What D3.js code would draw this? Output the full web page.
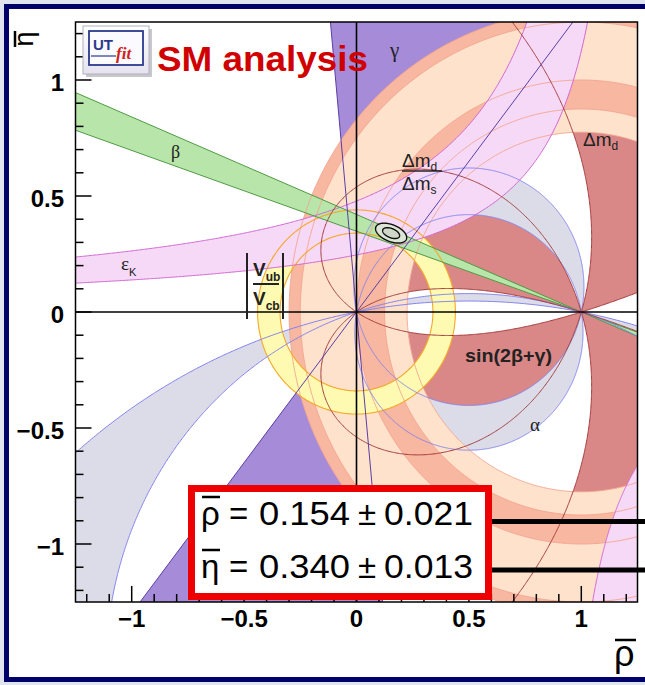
<!DOCTYPE html>
<html>
<head>
<meta charset="utf-8">
<script src="https://cdn.jsdelivr.net/npm/d3@7"></script>
<style>
  html, body { margin: 0; padding: 0; background: #dfe4ee; }
  svg { display: block; }
</style>
</head>
<body>
<svg id="chart" width="645" height="685"></svg>
<script>
// ---------- axis ticks ----------
const xTicks = [-1, -0.5, 0, 0.5, 1];
const yTicks = [-1, -0.5, 0, 0.5, 1];
const tickLabels = ["\u22121", "\u22120.5", "0", "0.5", "1"];

// ---------- fit result (rho-bar, eta-bar) ----------
const fitMean = [0.154, 0.340];
const fitError = [0.021, 0.013];
const fitLevels = [1.8, 3.3];          // contour sizes in units of sigma
const fitCorrelation = -0.45;

// ---------- constraints ----------
const vubVcbRadii = [0.34, 0.44];      // ring around (0,0)
const dmdOuterRadii = [1.2, 1.30];     // ring around (1,0)
const dmdRadii = [0.775, 1.25];        // ring around (1,0)
const dmsRadii = [0.875, 1.0];         // ring around (1,0)
const gammaDeg = [52.4, 95.3];         // wedge from (0,0)
const betaDeg = [19.2, 22.8];          // wedge from (1,0)
const alphaCentres = [[-0.088, 0.109], [-2.62, -1.535]]; // circle centres (0.5, c)
const epsKBand = [[0.587, 1.2275], [0.315, 1.28]];       // eta = k / (rho0 - rho)
const epsKBranch = [[0.281, 0.825], [0.9, 0.825]];
const sin2bgCut = [0.55];              // |sin(2beta+gamma)| lower bound

// ---------- layout ----------
const W = 645, H = 685;
const svg = d3.select("#chart");
const x = d3.scaleLinear().domain([-1.25, 1.25]).range([75.5, 637.5]);
const y = d3.scaleLinear().domain([-1.25, 1.25]).range([602, 22]);
const sans = "'Liberation Sans', Arial, Helvetica, sans-serif";
const serif = "'Liberation Serif', 'Times New Roman', serif";

const col = {
  gamma: "#a58bd8", gammaLine: "#5a3fa6",
  sinFill: "#da8787", sinLine: "#a33b3b",
  alpha: "#dcdce8", alphaLine: "#8383f0",
  dmd: "#fee2cc", dms: "#f8b7a0", ringLine: "#f3a58f",
  vub: "#fffab2", vubLine: "#f4a82a",
  eps: "#f6d9f6", epsLine: "#d168d1",
  beta: "#b8e5a9", betaLine: "#4f9a43"
};

// page background and navy frame
svg.append("rect").attr("width", W).attr("height", H).attr("fill", "#dfe4ee");
svg.append("rect").attr("x", 6.5).attr("y", 6.5).attr("width", W + 20).attr("height", 673)
  .attr("fill", "#ffffff").attr("stroke", "#00006a").attr("stroke-width", 5);

const defs = svg.append("defs");
defs.append("clipPath").attr("id", "plotClip").append("rect")
  .attr("x", x(-1.25)).attr("y", y(1.25))
  .attr("width", x(1.25) - x(-1.25)).attr("height", y(-1.25) - y(1.25));

const plot = svg.append("g").attr("clip-path", "url(#plotClip)");
const line = d3.line().x(d => x(d[0])).y(d => y(d[1]));

function circlePts(cx, cy, r, n = 720) {
  return d3.range(n).map(i => {
    const t = 2 * Math.PI * i / n;
    return [cx + r * Math.cos(t), cy + r * Math.sin(t)];
  });
}
const closed = pts => line(pts) + "Z";
const rad = d => d * Math.PI / 180;

// ---------- gamma wedge ----------
function wedge(cx, cy, a1, a2, sgn) {
  const L = 5, pts = [[cx, cy]];
  d3.range(0, 41).forEach(i => {
    const a = rad(a1 + (a2 - a1) * i / 40);
    pts.push([cx + sgn * L * Math.cos(a), cy + sgn * L * Math.sin(a)]);
  });
  return pts;
}
plot.append("path")
  .attr("d", closed(wedge(0, 0, gammaDeg[0], gammaDeg[1], 1)) + closed(wedge(0, 0, gammaDeg[0], gammaDeg[1], -1)))
  .attr("fill", col.gamma);

// ---------- |sin(2beta+gamma)| region ----------
const g0 = -1.35, g1 = 1.35, n = 541, step = (g1 - g0) / (n - 1);
const field = new Float64Array(n * n);
for (let j = 0; j < n; j++) {
  const eta = g0 + j * step;
  for (let i = 0; i < n; i++) {
    const rho = g0 + i * step;
    const b = Math.atan2(eta, 1 - rho), g = Math.atan2(eta, rho);
    field[i + j * n] = Math.abs(Math.sin(2 * b + g));
  }
}
const sinContours = d3.contours().size([n, n]).thresholds(sin2bgCut)(field);
const gridPath = d3.geoPath(d3.geoTransform({
  point: function (px, py) {
    this.stream.point(x(g0 + (px - 0.5) * step), y(g0 + (py - 0.5) * step));
  }
}));
plot.append("g").selectAll("path").data(sinContours).join("path")
  .attr("d", gridPath).attr("fill", col.sinFill);

// ---------- alpha bands (circles through (0,0) and (1,0)) ----------
const alphaCircle = c => circlePts(0.5, c, Math.sqrt(0.25 + c * c), 1440);
plot.append("g").selectAll("path").data(alphaCentres).join("path")
  .attr("d", d => closed(alphaCircle(d[0])) + closed(alphaCircle(d[1])))
  .attr("fill", col.alpha).attr("fill-rule", "evenodd");

// ---------- Delta m_d and Delta m_d / Delta m_s rings ----------
const ring = (cx, r) => closed(circlePts(cx, 0, r[0])) + closed(circlePts(cx, 0, r[1]));
plot.append("path").attr("d", ring(1, dmdOuterRadii)).attr("fill", col.dms).attr("fill-rule", "evenodd");
plot.append("path").attr("d", ring(1, dmdRadii)).attr("fill", col.dmd).attr("fill-rule", "evenodd");
plot.append("path").attr("d", ring(1, dmsRadii)).attr("fill", col.dms).attr("fill-rule", "evenodd");

// ---------- |Vub/Vcb| ring ----------
plot.append("path").attr("d", ring(0, vubVcbRadii)).attr("fill", col.vub).attr("fill-rule", "evenodd");

// ---------- epsilon_K hyperbolae ----------
function hyper(k, r0, from, to, m = 400) {
  return d3.range(m + 1).map(i => {
    const rho = from + (to - from) * i / m;
    return [rho, k / (r0 - rho)];
  });
}
const epsUp = hyper(epsKBand[0][0], epsKBand[0][1], -1.4, epsKBand[0][1] - epsKBand[0][0] / 1.6);
const epsLo = hyper(epsKBand[1][0], epsKBand[1][1], -1.4, epsKBand[1][1] - epsKBand[1][0] / 1.6);
const brA = hyper(epsKBranch[0][0], epsKBranch[0][1], epsKBranch[0][1] + epsKBranch[0][0] / 1.6, 1.4);
const brB = hyper(epsKBranch[1][0], epsKBranch[1][1], epsKBranch[1][1] + epsKBranch[1][0] / 1.6, 1.4);
plot.append("path").attr("d", closed(epsUp.concat(epsLo.slice().reverse()))).attr("fill", col.eps);
plot.append("path").attr("d", closed(brA.concat(brB.slice().reverse()))).attr("fill", col.eps);

// ---------- beta wedge from (1,0) ----------
function betaWedge(sgn) {
  const L = 4;
  return [[1, 0]].concat(betaDeg.map(a => [1 - sgn * L * Math.cos(rad(a)), sgn * L * Math.sin(rad(a))]));
}
plot.append("path").attr("d", closed(betaWedge(1)) + closed(betaWedge(-1))).attr("fill", col.beta);

// ---------- contour lines on top ----------
const strokes = plot.append("g").attr("fill", "none");
[dmdRadii, dmsRadii, [dmdOuterRadii[1]]].forEach(r => r.forEach(rr =>
  strokes.append("path").attr("d", closed(circlePts(1, 0, rr))).attr("stroke", col.ringLine).attr("stroke-width", 0.9)));
vubVcbRadii.forEach(rr =>
  strokes.append("path").attr("d", closed(circlePts(0, 0, rr))).attr("stroke", col.vubLine).attr("stroke-width", 1.1));
[epsUp, epsLo, brA].forEach(p =>
  strokes.append("path").attr("d", line(p)).attr("stroke", col.epsLine).attr("stroke-width", 1));
betaDeg.forEach(a =>
  strokes.append("path").attr("d", line([[1 - 4 * Math.cos(rad(a)), 4 * Math.sin(rad(a))], [1 + 4 * Math.cos(rad(a)), -4 * Math.sin(rad(a))]]))
    .attr("stroke", col.betaLine).attr("stroke-width", 1));
alphaCentres.flat().forEach(c =>
  strokes.append("path").attr("d", closed(alphaCircle(c))).attr("stroke", col.alphaLine).attr("stroke-width", 1));
strokes.selectAll(".sinline").data(sinContours).join("path")
  .attr("d", gridPath).attr("stroke", col.sinLine).attr("stroke-width", 1);
gammaDeg.forEach(a =>
  strokes.append("path").attr("d", line([[-4 * Math.cos(rad(a)), -4 * Math.sin(rad(a))], [4 * Math.cos(rad(a)), 4 * Math.sin(rad(a))]]))
    .attr("stroke", col.gammaLine).attr("stroke-width", 1));

// ---------- fit contours ----------
function fitEllipse(level) {
  return d3.range(181).map(i => {
    const t = 2 * Math.PI * i / 180;
    return [fitMean[0] + level * fitError[0] * Math.cos(t),
            fitMean[1] + level * fitError[1] * (fitCorrelation * Math.cos(t) + Math.sqrt(1 - fitCorrelation ** 2) * Math.sin(t))];
  });
}
plot.append("g").selectAll("path").data(fitLevels.slice().reverse()).join("path")
  .attr("d", d => closed(fitEllipse(d)))
  .attr("fill", (d, i) => i === 0 ? "#dde6d6" : "#cfd8c8")
  .attr("stroke", "#111").attr("stroke-width", 1.4);

// ---------- zero axes ----------
plot.append("line").attr("x1", x(-1.25)).attr("x2", x(1.25)).attr("y1", y(0)).attr("y2", y(0))
  .attr("stroke", "#000").attr("stroke-width", 1.6);
plot.append("line").attr("x1", x(0)).attr("x2", x(0)).attr("y1", y(1.25)).attr("y2", y(-1.25))
  .attr("stroke", "#000").attr("stroke-width", 1.6);

// ---------- constraint labels ----------
const lab = svg.append("g").attr("fill", "#222");
lab.append("text").attr("x", 390).attr("y", 57).attr("font-family", serif).attr("font-size", 21).text("γ");
lab.append("text").attr("x", 171).attr("y", 158).attr("font-family", serif).attr("font-size", 18).text("β");
lab.append("text").attr("x", 530).attr("y", 431).attr("font-family", serif).attr("font-size", 19).text("α");
const epsT = lab.append("text").attr("x", 121).attr("y", 270).attr("font-family", serif).attr("font-size", 19);
epsT.append("tspan").text("ε");
epsT.append("tspan").attr("font-size", 11).attr("dy", 6).attr("font-family", sans).text("K");
lab.append("text").attr("x", 465).attr("y", 362).attr("font-family", sans).attr("font-size", 19)
  .attr("font-weight", "bold").attr("textLength", 87).attr("lengthAdjust", "spacingAndGlyphs").text("sin(2β+γ)");

function dm(xp, yp, sub) {
  const t = lab.append("text").attr("x", xp).attr("y", yp).attr("font-family", sans).attr("font-size", 19);
  t.append("tspan").text("Δm");
  t.append("tspan").attr("font-size", 12).attr("dy", 4).text(sub);
}
dm(402, 167, "d");
lab.append("line").attr("x1", 402).attr("x2", 442).attr("y1", 171).attr("y2", 171).attr("stroke", "#222").attr("stroke-width", 1.6);
dm(402, 190, "s");
dm(583, 146, "d");

// |Vub/Vcb|
function vv(xp, yp, sub) {
  const t = lab.append("text").attr("x", xp).attr("y", yp).attr("font-family", sans).attr("font-size", 19).attr("font-weight", "bold");
  t.append("tspan").text("V");
  t.append("tspan").attr("font-size", 12).attr("dy", 5).text(sub);
}
vv(253, 276, "ub");
vv(253, 305, "cb");
lab.append("line").attr("x1", 253).attr("x2", 279).attr("y1", 284).attr("y2", 284).attr("stroke", "#222").attr("stroke-width", 2);
[247, 283].forEach(xx => lab.append("line").attr("x1", xx).attr("x2", xx).attr("y1", 253).attr("y2", 319)
  .attr("stroke", "#222").attr("stroke-width", 2));

// ---------- frame, ticks, tick labels ----------
svg.append("rect").attr("x", x(-1.25)).attr("y", y(1.25))
  .attr("width", x(1.25) - x(-1.25)).attr("height", y(-1.25) - y(1.25))
  .attr("fill", "none").attr("stroke", "#000").attr("stroke-width", 1.5);

const minor = d3.range(-12, 13).map(i => i / 10);
const tk = svg.append("g").attr("stroke", "#000").attr("stroke-width", 1.5);
minor.forEach(v => {
  const major = Math.abs(v * 2 - Math.round(v * 2)) < 1e-9;
  const len = major ? 16 : 8;
  tk.append("line").attr("x1", x(v)).attr("x2", x(v)).attr("y1", y(-1.25)).attr("y2", y(-1.25) - len);
  tk.append("line").attr("x1", x(-1.25)).attr("x2", x(-1.25) + len).attr("y1", y(v)).attr("y2", y(v));
});
const tl = svg.append("g").attr("font-family", sans).attr("font-weight", "bold").attr("font-size", 24).attr("fill", "#000");
xTicks.forEach((v, i) => tl.append("text").attr("x", x(v)).attr("y", 627).attr("text-anchor", "middle").text(tickLabels[i]));
yTicks.forEach((v, i) => tl.append("text").attr("x", 64).attr("y", y(v) + 11).attr("text-anchor", "end").text(tickLabels[i]));

// axis titles
svg.append("text").attr("x", 614).attr("y", 666).attr("font-family", sans).attr("font-size", 36).text("ρ");
svg.append("line").attr("x1", 615).attr("x2", 636).attr("y1", 640).attr("y2", 640).attr("stroke", "#000").attr("stroke-width", 2.5);
const etaT = svg.append("g").attr("transform", "translate(25,39) rotate(-90)");
etaT.append("text").attr("x", 0).attr("y", 8).attr("text-anchor", "middle").attr("font-family", sans).attr("font-size", 27).text("η");
etaT.append("line").attr("x1", -8).attr("x2", 8).attr("y1", -10).attr("y2", -10).attr("stroke", "#000").attr("stroke-width", 2.5);

// ---------- UTfit logo and title ----------
const logoGrad = defs.append("linearGradient").attr("id", "logoBg").attr("x1", 0).attr("y1", 0).attr("x2", 0).attr("y2", 1);
logoGrad.append("stop").attr("offset", 0).attr("stop-color", "#ffffff");
logoGrad.append("stop").attr("offset", 1).attr("stop-color", "#e6e2f0");
svg.append("rect").attr("x", 86).attr("y", 29).attr("width", 66).attr("height", 48).attr("fill", "#c8c8cc");
svg.append("rect").attr("x", 83).attr("y", 26).attr("width", 66).attr("height", 48).attr("fill", "url(#logoBg)").attr("stroke", "#b0b0c0");
svg.append("rect").attr("x", 89).attr("y", 31).attr("width", 54).attr("height", 34).attr("fill", "#fbfaff").attr("stroke", "#2b3a8c").attr("stroke-width", 1.8);
svg.append("text").attr("x", 93).attr("y", 50).attr("font-family", sans).attr("font-weight", "bold").attr("font-size", 15).attr("fill", "#2b3a8c").text("UT");
svg.append("text").attr("x", 116).attr("y", 59).attr("font-family", serif).attr("font-style", "italic").attr("font-weight", "bold").attr("font-size", 17).attr("fill", "#d02020").text("fit");
svg.append("line").attr("x1", 91).attr("x2", 116).attr("y1", 56).attr("y2", 56).attr("stroke", "#2b3a8c").attr("stroke-width", 1.2);
svg.append("text").attr("x", 157).attr("y", 71).attr("font-family", sans).attr("font-weight", "bold").attr("font-size", 35)
  .attr("fill", "#d00000").attr("textLength", 211).attr("lengthAdjust", "spacingAndGlyphs").text("SM analysis");

// ---------- result box ----------
svg.append("line").attr("x1", 490).attr("x2", 645).attr("y1", 521.5).attr("y2", 521.5).attr("stroke", "#000").attr("stroke-width", 5);
svg.append("line").attr("x1", 490).attr("x2", 645).attr("y1", 570).attr("y2", 570).attr("stroke", "#000").attr("stroke-width", 5);
svg.append("rect").attr("x", 191.5).attr("y", 488.5).attr("width", 297).attr("height", 108)
  .attr("fill", "#fff").attr("stroke", "#ee0000").attr("stroke-width", 7);
const res = [["ρ", fitMean[0], fitError[0], 525], ["η", fitMean[1], fitError[1], 578]];
const rg = svg.append("g").attr("font-family", sans).attr("font-size", 33).attr("fill", "#000");
res.forEach(([sym, m, e, by]) => {
  rg.append("text").attr("x", 201).attr("y", by).text(sym);
  rg.append("line").attr("x1", 202).attr("x2", 220).attr("y1", by - 28).attr("y2", by - 28).attr("stroke", "#000").attr("stroke-width", 2.5);
  rg.append("text").attr("x", 229).attr("y", by).text("=");
  rg.append("text").attr("x", 259).attr("y", by).attr("textLength", 91).attr("lengthAdjust", "spacingAndGlyphs").text(m.toFixed(3));
  rg.append("text").attr("x", 358).attr("y", by).text("±");
  rg.append("text").attr("x", 384).attr("y", by).attr("textLength", 89).attr("lengthAdjust", "spacingAndGlyphs").text(e.toFixed(3));
});
</script>
</body>
</html>
